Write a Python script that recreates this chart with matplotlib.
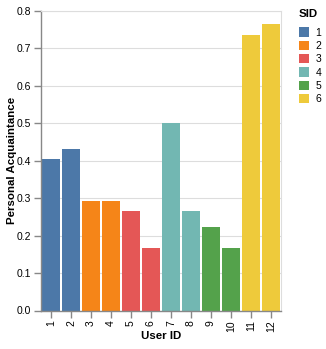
import matplotlib.pyplot as plt
from matplotlib.patches import Patch

plt.rcParams['font.family'] = ['Liberation Sans', 'DejaVu Sans']

# data
user_ids = ['1', '2', '3', '4', '5', '6', '7', '8', '9', '10', '11', '12']
sid = [1, 1, 2, 2, 3, 3, 4, 4, 5, 5, 6, 6]
acquaintance = [0.404, 0.432, 0.293, 0.293, 0.265, 0.168, 0.501, 0.265, 0.224, 0.168, 0.737, 0.766]

sid_labels = ['1', '2', '3', '4', '5', '6']
sid_colors = ['#4c78a8', '#f58518', '#e45756', '#72b7b2', '#54a24b', '#eeca3b']

W, H = 326, 349
fig = plt.figure(figsize=(W / 100, H / 100), dpi=100)
ax = fig.add_axes([41 / W, (H - 310.5) / H, 240 / W, (310.5 - 11) / H])

x = range(len(user_ids))
colors = [sid_colors[s - 1] for s in sid]
ax.bar(x, acquaintance, width=0.9, color=colors, zorder=2)

ax.set_xlim(-0.5, len(user_ids) - 0.5)
ax.set_ylim(0, 0.8)
ax.set_yticks([i / 10 for i in range(9)])
ax.set_yticklabels(['%.1f' % (i / 10) for i in range(9)])
ax.set_xticks(list(x))
ax.set_xticklabels(user_ids, rotation=90)

ax.grid(axis='y', color='#dddddd', linewidth=0.8, zorder=0)
for side in ['top', 'right']:
    ax.spines[side].set_color('#dddddd')
    ax.spines[side].set_linewidth(0.8)
for side in ['left', 'bottom']:
    ax.spines[side].set_color('#888888')
    ax.spines[side].set_linewidth(1)

ax.tick_params(axis='both', colors='#888888', labelcolor='black', labelsize=7.5, length=5, width=1, pad=2)

ax.set_xlabel('User ID', fontsize=8.25, fontweight='bold', va='center')
ax.set_ylabel('Personal Acquaintance', fontsize=8.25, fontweight='bold', va='center')
ax.xaxis.set_label_coords(0.5, (310.5 - 336) / 299.5)
ax.yaxis.set_label_coords((12 - 41) / 240, 0.5)

handles = [Patch(facecolor=c, edgecolor='none') for c in sid_colors]
leg = fig.legend(handles, sid_labels, title='SID', loc='upper left',
                 bbox_to_anchor=(299 / W, 1 - 9 / H), frameon=False,
                 fontsize=7.5, title_fontproperties={'weight': 'bold', 'size': 8.25},
                 handlelength=1.0, handleheight=1.0, handletextpad=0.6,
                 labelspacing=0.3, borderpad=0, borderaxespad=0)
leg._legend_box.align = 'left'
leg._legend_box.sep = 6

fig.savefig('out.png', dpi=100)
